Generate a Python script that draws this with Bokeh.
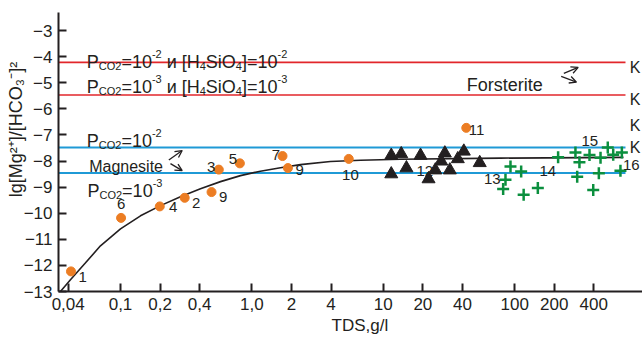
from bokeh.plotting import figure
from bokeh.models import Range1d, FixedTicker, Label, ColumnDataSource, Arrow, OpenHead
from bokeh.embed import file_html
from bokeh.resources import INLINE
from bokeh.core.properties import value

FONT = "Liberation Sans"
INK = "#231f20"
ORANGE = "#ec7d23"
GREEN = "#0b8f3e"
RED = "#e2262b"
BLUE = "#1f9ad6"

# ---------------- data ----------------
X_TICKS = [0.04, 0.1, 0.2, 0.4, 1.0, 2, 4, 10, 20, 40, 100, 200, 400]
X_TICK_LABELS = ["0,04", "0,1", "0,2", "0,4", "1,0", "2", "4", "10", "20", "40", "100", "200", "400"]
Y_TICKS = [-3, -4, -5, -6, -7, -8, -9, -10, -11, -12, -13]

# orange circles (TDS g/l, lg value, sample number)
circ_tds = [0.042, 0.101, 0.199, 0.308, 0.493, 0.56, 0.81, 1.71, 1.88, 5.46, 42.8]
circ_lg = [-12.23, -10.18, -9.74, -9.41, -9.19, -8.33, -8.09, -7.81, -8.27, -7.92, -6.73]
circ_num = ["1", "6", "4", "2", "9", "3", "5", "7", "9", "10", "11"]

# black triangles
tri_tds = [11.5, 13.7, 19.2, 29.4, 41.0, 36.9, 27.6, 54.2, 15.0, 11.5, 24.9, 32.1, 22.1]
tri_lg = [-7.79, -7.73, -7.79, -7.70, -7.63, -7.92, -8.01, -8.07, -8.27, -8.50, -8.35, -8.35, -8.69]

# green crosses
cross_tds = [92.9, 112, 85.1, 81.7, 117, 150, 214, 290, 311, 299, 371, 450, 437, 396, 511, 562, 654, 638]
cross_lg = [-8.21, -8.40, -8.72, -9.07, -9.29, -9.03, -7.86, -7.67, -8.05, -8.60, -7.77, -7.88,
            -8.47, -9.11, -7.48, -7.76, -7.67, -8.37]

# group labels
grp_num = ["12", "13", "14", "15", "16"]
grp_tds = [20.7, 67.5, 178.6, 373, 771]
grp_lg = [-8.37, -8.69, -8.40, -7.22, -8.14]

# fitted curve
curve_tds = [0.0349, 0.0416, 0.0471, 0.0542, 0.0704, 0.1, 0.142, 0.2015, 0.286, 0.406, 0.577,
             0.819, 1.16, 1.65, 2.34, 3.96, 6.71, 13.5, 78, 673]
curve_lg = [-13.0, -12.55, -12.24, -11.90, -11.25, -10.60, -10.10, -9.71, -9.37, -9.06, -8.79,
            -8.56, -8.39, -8.26, -8.14, -8.02, -7.97, -7.93, -7.89, -7.86]

# equilibrium levels
red_levels = [-4.22, -5.47]
blue_levels = [-7.48, -8.46]

# ---------------- layout ----------------
X_LO, X_HI = 0.03374, 939
Y_LO, Y_HI = -13, -2.31
LINE_END = 697
NB = "\u00a0"

# label offsets for circles (px, screen: +dy = down)
circ_dx = [11.7, 0, 13.4, 11.4, 11.7, -7.6, -7, -6.7, 11.7, 1.7, 10.3]
circ_dy = [6, -14, 0.3, 4.7, 5.4, -3, -4.4, -1.3, 2, 15.7, 2]

p = figure(width=642, height=338, x_axis_type="log",
           x_range=Range1d(X_LO, X_HI), y_range=Range1d(Y_LO, Y_HI),
           output_backend="svg", toolbar_location=None, title=None,
           min_border_left=58, min_border_right=0, min_border_top=12, min_border_bottom=47)
p.outline_line_color = None
p.xgrid.visible = False
p.ygrid.visible = False
p.background_fill_color = "white"
p.border_fill_color = "white"

for ax in (p.xaxis[0], p.yaxis[0]):
    ax.axis_line_width = 2
    ax.axis_line_color = INK
    ax.major_tick_line_width = 2
    ax.major_tick_line_color = INK
    ax.major_tick_in = 8
    ax.major_tick_out = 0
    ax.minor_tick_line_color = None
    ax.major_label_text_font = FONT
    ax.major_label_text_font_size = "17px"
    ax.major_label_text_color = INK
    ax.major_label_standoff = 6
    ax.axis_label_text_font = FONT
    ax.axis_label_text_font_style = "normal"
    ax.axis_label_text_color = INK

p.xaxis.ticker = FixedTicker(ticks=X_TICKS)
p.xaxis.major_label_overrides = dict(zip(X_TICKS, X_TICK_LABELS))
p.yaxis.ticker = FixedTicker(ticks=Y_TICKS)

p.xaxis.axis_label = NB * 4 + "TDS,g/l"
p.xaxis.axis_label_text_font_size = "17px"
p.xaxis.axis_label_standoff = 3
p.yaxis.axis_label = NB * 9 + "lg[Mg\u00b2\u207a]/[HCO\u2083\u207b]\u00b2"
p.yaxis.axis_label_text_font_size = "18px"
p.yaxis.axis_label_standoff = -5

# level lines
for lv in red_levels:
    p.line([X_LO, LINE_END], [lv, lv], line_color=RED, line_width=1.6)
for lv in blue_levels:
    p.line([X_LO, LINE_END], [lv, lv], line_color=BLUE, line_width=2)

# curve
p.line(curve_tds, curve_lg, line_color=INK, line_width=1.6)

# markers
p.scatter(tri_tds, tri_lg, marker="triangle", size=13, fill_color=INK, line_color=INK)
p.scatter(cross_tds, cross_lg, marker="cross", size=12, line_color=GREEN, line_width=2.5)
p.scatter(circ_tds, circ_lg, marker="circle", size=9, fill_color=ORANGE, line_color=ORANGE)

src = ColumnDataSource(dict(x=circ_tds, y=circ_lg, t=circ_num, dx=circ_dx, dy=circ_dy))
p.text(x="x", y="y", text="t", x_offset="dx", y_offset="dy", source=src,
       text_font=value(FONT), text_font_size="15px", text_color=INK,
       text_align="center", text_baseline="middle")
p.text(x=grp_tds, y=grp_lg, text=grp_num,
       text_font=value(FONT), text_font_size="15px", text_color=INK,
       text_align="center", text_baseline="middle")

# ---------------- rich text ----------------
W = {" ": .278, "=": .584, "-": .333, "+": .584, "[": .278, "]": .278, "/": .278, ",": .278,
     "P": .667, "C": .722, "O": .778, "H": .722, "S": .667, "M": .833, "K": .667,
     "i": .222, "l": .222, "g": .556, "и": .556}


def tw(s, size):
    return sum(W.get(c, .556) for c in s) * size


def rich(x, y, segs, size, small, sup=8, sub=4, color=INK, dx0=-3):
    adv = 0.0
    for txt, kind in segs:
        fs = size if kind == "n" else small
        shift = sup if kind == "sup" else (-sub if kind == "sub" else 0)
        lead = len(txt) - len(txt.lstrip(" "))
        a = adv + tw(" " * lead, fs)
        p.add_layout(Label(x=x, y=y, x_offset=dx0 + a, y_offset=shift, text=txt.strip(" "),
                           text_font=FONT, text_font_size=f"{fs}px", text_color=color,
                           text_align="left", text_baseline="alphabetic"))
        adv += tw(txt, fs)


def pco2(e1, e2=None):
    s = [("P", "n"), ("CO2", "sub"), ("=10", "n"), (e1, "sup")]
    if e2:
        s += [(" и [H", "n"), ("4", "sub"), ("SiO", "n"), ("4", "sub"), ("]=10", "n"), (e2, "sup")]
    return s


rich(0.0584, -4.19, pco2("-2", "-2"), 18, 11)
rich(0.0584, -5.15, pco2("-3", "-3"), 18, 11)
rich(0.0584, -7.22, pco2("-2"), 18, 11)
rich(0.0591, -9.16, pco2("-3"), 18, 11)

p.add_layout(Label(x=0.0609, y=-8.20, x_offset=-3, text="Magnesite", text_font=FONT,
                   text_font_size="16px", text_color=INK, text_baseline="alphabetic"))
p.add_layout(Label(x=44.75, y=-5.07, x_offset=-2, text="Forsterite", text_font=FONT,
                   text_font_size="18px", text_color=INK, text_baseline="alphabetic"))
for yk in [-4.43, -5.66, -6.64, -7.48]:
    p.add_layout(Label(x=751, y=yk, text="K", text_font=FONT, text_font_size="16px",
                       text_color=INK, text_baseline="alphabetic"))

# arrows
arrows = [((0.2332, -7.96), (0.2948, -7.60)), ((0.2401, -8.10), (0.2948, -8.37)),
          ((236.5, -4.64), (304.2, -4.41)), ((225.9, -4.76), (295.3, -4.98))]
for (xs, ys), (xe, ye) in arrows:
    p.add_layout(Arrow(end=OpenHead(size=7, line_color=INK, line_width=1.3),
                       x_start=xs, y_start=ys, x_end=xe, y_end=ye,
                       line_color=INK, line_width=1.3))

open("out.html", "w").write(file_html(p, INLINE))
